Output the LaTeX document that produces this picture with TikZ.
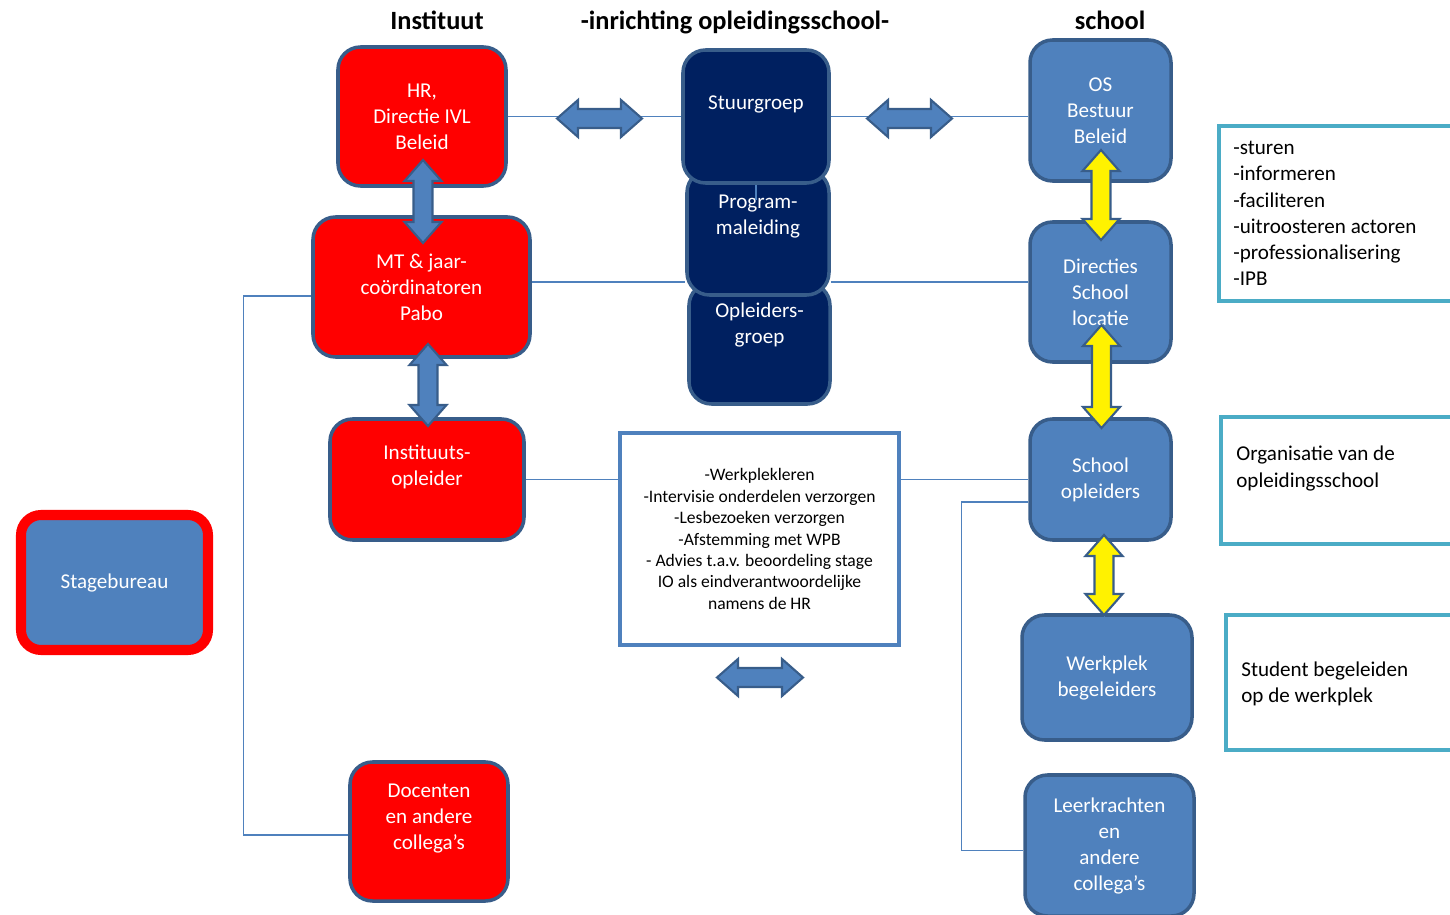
\documentclass[tikz,border=0pt]{standalone}
\usepackage{fontspec}
\setmainfont{Carlito}
\usepackage{tikz}
\usetikzlibrary{calc}
\definecolor{ofblue}{HTML}{4F81BD}
\definecolor{ofline}{HTML}{385D8A}
\definecolor{ofnavy}{HTML}{002060}
\definecolor{ofteal}{HTML}{4BACC6}
\newcommand{\blockarrow}[4]{\draw[draw=ofline, line width=1.2pt, fill=#4, shift={#1}, rotate=#2] ({-#3},0) -- ({-#3+0.42},0.37) -- ({-#3+0.42},0.19) -- ({#3-0.42},0.19) -- ({#3-0.42},0.37) -- ({#3},0) -- ({#3-0.42},-0.37) -- ({#3-0.42},-0.19) -- ({-#3+0.42},-0.19) -- ({-#3+0.42},-0.37) -- cycle;}
\tikzset{
  unitbox/.style={draw=ofline, line width=2pt, rounded corners=0.45cm, text=white, align=center, font=\fontsize{12}{14.8}\selectfont, inner sep=0pt},
  redbox/.style={unitbox, fill=red},
  bluebox/.style={unitbox, fill=ofblue},
  navybox/.style={unitbox, fill=ofnavy},
  boxtext/.style={text=white, align=center, font=\fontsize{12}{14.8}\selectfont},
  tealbox/.style={draw=ofteal, line width=2.4pt},
  sidetext/.style={align=left, anchor=west, inner sep=0pt, font=\fontsize{12}{14.9}\selectfont},
  thinline/.style={draw=ofblue, line width=0.8pt},
  headtext/.style={font=\fontsize{15}{18}\selectfont\bfseries, anchor=base},
}
\begin{document}
\begin{tikzpicture}
\useasboundingbox (0,0) rectangle (29,-18.3);
\clip (0,0) rectangle (29,-18.3);
\node[headtext] (tinst) at (8.74,-0.58) {Instituut};
\node[headtext] (tinr) at (14.7,-0.58) {-inrichting opleidingsschool-};
\node[headtext] (tsch) at (22.2,-0.58) {school};
\node[redbox, minimum width=3.36cm, minimum height=2.78cm] (hr) at (8.44,-2.33) {HR,\\Directie IVL\\Beleid};
\node[redbox, minimum width=4.34cm, minimum height=2.8cm] (mt) at (8.43,-5.74) {MT \& jaar-\\coördinatoren\\Pabo};
\node[redbox, minimum width=3.88cm, minimum height=2.42cm] (io) at (8.54,-9.59) {};
\node[redbox, minimum width=3.16cm, minimum height=2.78cm] (doc) at (8.58,-16.63) {};
\node[boxtext] (iotxt) at ($(io)+(0,0.26)$) {Instituuts-\\opleider};
\node[boxtext] (doctxt) at ($(doc)+(0,0.26)$) {Docenten\\en andere\\collega’s};
\node[unitbox, draw=red, line width=5.7pt, fill=ofblue, rounded corners=0.4cm, minimum width=3.74cm, minimum height=2.7cm] (stage) at (2.29,-11.65) {Stagebureau};
\node[navybox, minimum width=2.82cm, minimum height=2.42cm] (opl) at (15.19,-6.87) {};
\node[navybox, minimum width=2.84cm, minimum height=2.5cm] (prog) at (15.16,-4.65) {};
\node[navybox, minimum width=2.92cm, minimum height=2.66cm] (stuur) at (15.12,-2.33) {};
\node[boxtext] (stuurtxt) at (15.12,-2.08) {Stuurgroep};
\node[boxtext] (progtxt) at (15.16,-4.33) {Program-\\maleiding};
\node[boxtext] (opltxt) at (15.19,-6.5) {Opleiders-\\groep};
\node[bluebox, minimum width=2.82cm, minimum height=2.82cm] (os) at (22.01,-2.21) {OS\\Bestuur\\Beleid};
\node[bluebox, minimum width=2.82cm, minimum height=2.8cm] (dir) at (22.01,-5.84) {Directies\\School\\locatie};
\node[bluebox, minimum width=2.82cm, minimum height=2.42cm] (sch) at (22.01,-9.59) {School\\opleiders};
\node[bluebox, minimum width=3.4cm, minimum height=2.5cm] (werk) at (22.14,-13.55) {Werkplek\\begeleiders};
\node[bluebox, minimum width=3.38cm, minimum height=2.82cm] (leer) at (22.19,-16.91) {Leerkrachten\\en\\andere\\collega’s};
\node[draw=ofblue, line width=2.2pt, fill=white, minimum width=5.58cm, minimum height=4.24cm, align=center, font=\fontsize{10}{12.2}\selectfont] (mid) at (15.19,-10.78) {-Werkplekleren\\-Intervisie onderdelen verzorgen\\-Lesbezoeken verzorgen\\-Afstemming met WPB\\- Advies t.a.v. beoordeling stage\\IO als eindverantwoordelijke\\namens de HR};
\draw[tealbox] (24.38,-2.52) rectangle (29.6,-6.02);
\draw[tealbox] (24.42,-8.34) rectangle (29.6,-10.88);
\draw[tealbox] (24.52,-12.3) rectangle (29.6,-15.0);
\node[sidetext] (takentxt) at (24.66,-4.27) {-sturen\\-informeren\\-faciliteren\\-uitroosteren actoren\\-professionalisering\\-IPB};
\node[sidetext] (orgtxt) at (24.72,-9.37) {Organisatie van de\\opleidingsschool};
\node[sidetext] (studtxt) at (24.82,-13.67) {Student begeleiden\\op de werkplek};
\draw[thinline] (hr.east) -- (hr.east -| stuur.west);
\draw[thinline] (stuur.east) -- (stuur.east -| os.west);
\draw[thinline] ([yshift=1mm]mt.east) -- ([yshift=1mm]mt.east -| prog.west);
\draw[thinline] ([yshift=1mm]mt.east -| prog.east) -- ([yshift=1mm]mt.east -| dir.west);
\draw[thinline] (io.east) -- (io.east -| mid.west);
\draw[thinline] (io.east -| mid.east) -- (io.east -| sch.west);
\draw[thinline] ([yshift=-1.8mm]mt.west) -- ++(-1.36,0) |- ([yshift=-0.7mm]doc.west);
\draw[thinline] ([yshift=-4.5mm]sch.west) -- ++(-1.34,0) |- ([yshift=-1mm]leer.west);
\draw[thinline] (stuur.south) -- ++(0,-0.3);
\draw[thinline] ([xshift=-0.05cm]werk.north) -- ++(0,-0.86);
\blockarrow{(11.99,-2.37)}{0}{0.85}{ofblue}
\blockarrow{(18.19,-2.37)}{0}{0.85}{ofblue}
\blockarrow{(15.2,-13.55)}{0}{0.86}{ofblue}
\blockarrow{(8.46,-4.03)}{90}{0.83}{ofblue}
\blockarrow{(8.56,-7.7)}{90}{0.82}{ofblue}
\blockarrow{(22.02,-3.9)}{90}{0.9}{yellow}
\blockarrow{(22.03,-7.53)}{90}{1.03}{yellow}
\blockarrow{(22.08,-11.5)}{90}{0.8}{yellow}
\end{tikzpicture}
\end{document}
